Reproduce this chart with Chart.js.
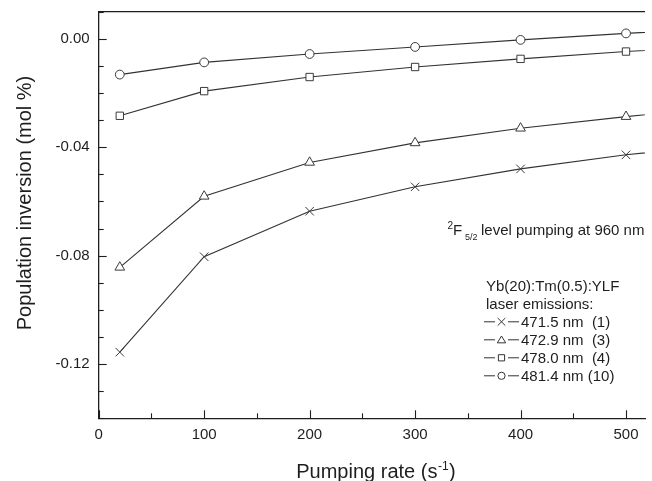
<!DOCTYPE html>
<html>
<head>
<meta charset="utf-8">
<script src="https://cdn.jsdelivr.net/npm/chart.js@4.4.1/dist/chart.umd.min.js"></script>
<style>
html,body{margin:0;padding:0;background:#fff;overflow:hidden}
canvas{display:block}
</style>
</head>
<body>
<canvas id="chart" width="652" height="481"></canvas>
<script>
// ---- data ----
const pumpRates = [20, 100, 200, 300, 400, 500, 600];
const inversion471 = [-0.1156, -0.0804, -0.0636, -0.0546, -0.0480, -0.0428, -0.0388];
const inversion472 = [-0.0843, -0.0581, -0.0456, -0.0384, -0.0330, -0.0287, -0.0250];
const inversion478 = [-0.0284, -0.0193, -0.0141, -0.0104, -0.0074, -0.0047, -0.0025];
const inversion481 = [-0.0132, -0.0087, -0.0056, -0.0030, -0.0004, 0.0020, 0.0040];
const seriesLabels = ['471.5 nm  (1)', '472.9 nm  (3)', '478.0 nm  (4)', '481.4 nm (10)'];
const seriesStyles = ['crossRot', 'triangle', 'rect', 'circle'];
const xTickValues = [0, 50, 100, 150, 200, 250, 300, 350, 400, 450, 500];
const xLabelValues = [0, 100, 200, 300, 400, 500];
const yTickValues = [-0.14, -0.13, -0.12, -0.11, -0.10, -0.09, -0.08, -0.07, -0.06, -0.05, -0.04, -0.03, -0.02, -0.01, 0.00, 0.01];
const yLabelValues = [-0.12, -0.08, -0.04, 0.00];
const xTitle = 'Pumping rate (s';
const xTitleSup = '-1';
const yTitle = 'Population inversion (mol %)';
const legendHeader = ['Yb(20):Tm(0.5):YLF', 'laser emissions:'];
const annotationText = 'level pumping at 960 nm';

const FONT = '"Liberation Sans", Arial, Helvetica, sans-serif';
const INK = '#1e1e1e';
const LINE = '#333333';

const seriesValues = [inversion471, inversion472, inversion478, inversion481];
const pointSizes = [6, 5.6, 5.2, 4.4];

function isY(v, list) { return list.some(l => Math.abs(l - v) < 1e-6); }

function drawSymbol(ctx, style, cx, cy, r) {
  ctx.beginPath();
  if (style === 'circle') {
    ctx.arc(cx, cy, r, 0, Math.PI * 2);
  } else if (style === 'rect') {
    ctx.rect(cx - r, cy - r, 2 * r, 2 * r);
  } else if (style === 'triangle') {
    ctx.moveTo(cx, cy - r);
    ctx.lineTo(cx + r * 1.1, cy + r * 0.8);
    ctx.lineTo(cx - r * 1.1, cy + r * 0.8);
    ctx.closePath();
  } else {
    ctx.moveTo(cx - r, cy - r); ctx.lineTo(cx + r, cy + r);
    ctx.moveTo(cx + r, cy - r); ctx.lineTo(cx - r, cy + r);
  }
  if (style !== 'crossRot') { ctx.fillStyle = '#fff'; ctx.fill(); }
  ctx.stroke();
}

const decorPlugin = {
  id: 'decor',
  afterDraw(chart) {
    const ctx = chart.ctx;
    const a = chart.chartArea;
    const xs = chart.scales.x, ys = chart.scales.y;
    ctx.save();
    ctx.strokeStyle = INK;
    // top frame line
    ctx.lineWidth = 1.3;
    ctx.beginPath(); ctx.moveTo(a.left, a.top); ctx.lineTo(a.right, a.top); ctx.stroke();
    // inward ticks
    ctx.lineWidth = 1.1;
    xTickValues.forEach(v => {
      const px = Math.round(xs.getPixelForValue(v)) + 0.5;
      const len = isY(v, xLabelValues) ? 8 : 5;
      ctx.beginPath(); ctx.moveTo(px, a.bottom); ctx.lineTo(px, a.bottom - len); ctx.stroke();
    });
    yTickValues.forEach(v => {
      const py = Math.round(ys.getPixelForValue(v)) + 0.5;
      const len = isY(v, yLabelValues) ? 8 : 5;
      ctx.beginPath(); ctx.moveTo(a.left, py); ctx.lineTo(a.left + len, py); ctx.stroke();
    });

    ctx.fillStyle = INK;
    // y title
    ctx.save();
    ctx.translate(25, 203);
    ctx.rotate(-Math.PI / 2);
    ctx.font = '20px ' + FONT;
    ctx.textAlign = 'center';
    ctx.textBaseline = 'middle';
    ctx.fillText(yTitle, 0, 0);
    ctx.restore();

    // x title with superscript
    ctx.textAlign = 'left';
    ctx.textBaseline = 'alphabetic';
    ctx.font = '20px ' + FONT;
    const w1 = ctx.measureText(xTitle).width;
    const w3 = ctx.measureText(')').width;
    ctx.font = '12px ' + FONT;
    const w2 = ctx.measureText(xTitleSup).width;
    let sx = 376 - (w1 + w2 + w3 + 1) / 2;
    const base = 478;
    ctx.font = '20px ' + FONT;
    ctx.fillText(xTitle, sx, base);
    ctx.font = '12px ' + FONT;
    ctx.fillText(xTitleSup, sx + w1 + 0.5, base - 8);
    ctx.font = '20px ' + FONT;
    ctx.fillText(')', sx + w1 + w2 + 1, base);

    // annotation: 2F5/2 level pumping at 960 nm
    ctx.font = '10px ' + FONT;
    ctx.fillText('2', 447.5, 229);
    ctx.font = '15px ' + FONT;
    ctx.fillText('F', 453, 235);
    ctx.font = '9px ' + FONT;
    ctx.fillText('5/2', 465, 240);
    ctx.font = '15px ' + FONT;
    ctx.fillText(annotationText, 481, 235);

    // legend
    ctx.font = '15px ' + FONT;
    ctx.fillText(legendHeader[0], 486, 291);
    ctx.fillText(legendHeader[1], 486, 309);
    ctx.strokeStyle = LINE;
    ctx.lineWidth = 1;
    seriesLabels.forEach((lab, i) => {
      const bl = 327 + i * 18;
      const cy = bl - 5.2;
      ctx.beginPath();
      ctx.moveTo(484, cy); ctx.lineTo(495, cy);
      ctx.moveTo(508, cy); ctx.lineTo(519, cy);
      ctx.stroke();
      drawSymbol(ctx, seriesStyles[i], 501.5, cy, seriesStyles[i] === 'circle' ? 3.6 : (seriesStyles[i] === 'rect' ? 3.1 : 3.8));
      ctx.fillStyle = INK;
      ctx.fillText(lab, 521, bl);
    });
    ctx.restore();
  }
};

const datasets = seriesValues.map((vals, i) => ({
  label: seriesLabels[i],
  data: vals,
  borderColor: LINE,
  borderWidth: 1.1,
  pointStyle: seriesStyles[i],
  pointRadius: pointSizes[i],
  pointBorderWidth: 1,
  pointBorderColor: '#3a3a3a',
  pointBackgroundColor: '#ffffff',
  tension: 0,
  fill: false
}));

new Chart(document.getElementById('chart'), {
  type: 'line',
  data: { labels: pumpRates, datasets: datasets },
  options: {
    responsive: false,
    animation: false,
    events: [],
    layout: { padding: { top: 11.7, left: 0, right: 0, bottom: 0 } },
    plugins: { legend: { display: false }, tooltip: { enabled: false } },
    scales: {
      x: {
        type: 'linear',
        min: 0,
        max: 518,
        grid: { display: false, drawTicks: false },
        border: { display: true, color: INK, width: 1.3 },
        afterBuildTicks: s => { s.ticks = xTickValues.map(v => ({ value: v })); },
        afterFit: s => { s.height = 481 - 418.3; s.paddingLeft = 0; s.paddingRight = 0; },
        ticks: {
          padding: 8,
          maxRotation: 0,
          autoSkip: false,
          color: INK,
          font: { family: FONT, size: 15 },
          callback: v => isY(v, xLabelValues) ? String(v) : ''
        }
      },
      y: {
        type: 'linear',
        min: -0.14,
        max: 0.01,
        grid: { display: false, drawTicks: false },
        border: { display: true, color: INK, width: 1.3 },
        afterBuildTicks: s => { s.ticks = yTickValues.map(v => ({ value: v })); },
        afterFit: s => { s.width = 98.7; s.paddingTop = 0; s.paddingBottom = 0; },
        ticks: {
          padding: 9,
          autoSkip: false,
          color: INK,
          font: { family: FONT, size: 15 },
          callback: v => isY(v, yLabelValues) ? (Math.abs(v) < 1e-9 ? '0.00' : v.toFixed(2)) : ''
        }
      }
    }
  },
  plugins: [decorPlugin]
});
</script>
</body>
</html>
